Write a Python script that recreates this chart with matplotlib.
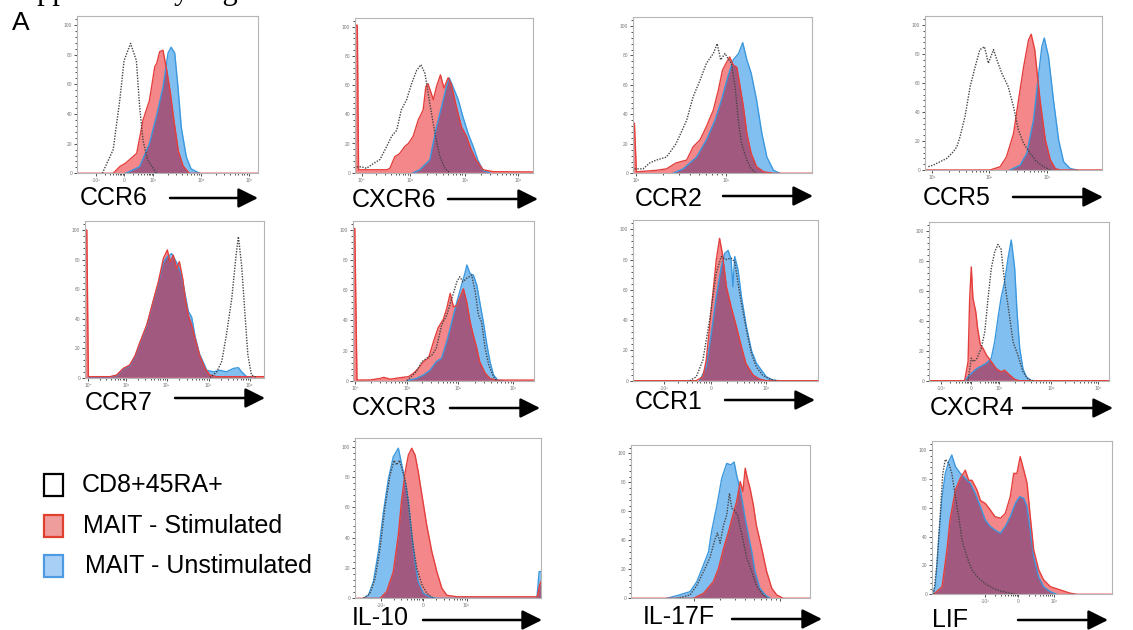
import numpy as np
import matplotlib
matplotlib.use('Agg')
import matplotlib.pyplot as plt
from matplotlib.patches import Rectangle
from matplotlib.ticker import MultipleLocator

plt.rcParams['font.family'] = ['Liberation Sans', 'DejaVu Sans']

# x = percent of axis width, y = % of max
ccr6_naive_x = [14, 20, 23.6, 26, 29.6, 32.8, 34.6, 36.5, 39, 44]
ccr6_naive_y = [0, 16, 49, 76, 87.6, 76, 45, 22, 9, 0]
ccr6_stim_x = [0, 20, 23.6, 27, 33, 36.5, 40, 43, 44, 45.7, 47.5, 49.5, 51.5, 53.5, 56, 58.6, 62, 100]
ccr6_stim_y = [0, 0, 4.5, 7, 13.5, 36, 49, 72, 74, 82, 83, 70, 55, 36, 15, 5, 0, 0]
ccr6_unstim_x = [27, 34.6, 40, 43.8, 47.5, 50.3, 52, 54, 55.8, 57.6, 60.4, 63, 67.8]
ccr6_unstim_y = [0, 4.5, 20, 38, 58, 81, 85, 81, 58, 31, 11, 3, 0]

cxcr6_naive_x = [1, 3.7, 6.5, 10, 14, 17.8, 20.6, 23.4, 26, 29, 31.8, 34.6, 37, 39.3, 42, 44.9, 47.7, 50.5, 53]
cxcr6_naive_y = [4, 4, 3, 6, 9, 18, 25, 29, 43, 50, 61, 70, 74, 68, 47.5, 27, 11, 3, 0]
cxcr6_stim_x = [0, 0, 1.3, 2, 18, 19.6, 22.4, 25, 28, 30, 32.7, 35.5, 38.3, 39.8, 41, 44, 45.8, 48, 50,
                52.3, 54, 57, 59.8, 62.6, 65.4, 68, 72, 77.6, 100]
cxcr6_stim_y = [0, 101, 101, 2, 2, 3, 11, 13, 18, 20, 25, 36, 43, 59, 61, 50, 59, 67, 58,
                65, 61, 45, 31.5, 25, 15.5, 8.7, 2, 0.7, 0.5]
cxcr6_unstim_x = [32.7, 36.4, 42, 45.8, 48.6, 51.4, 52.9, 55, 58, 60.7, 63.5, 66.4, 69, 72, 75.7]
cxcr6_unstim_y = [0, 2, 8.7, 31.5, 45, 59, 65, 59, 50, 38, 27, 18, 8.7, 1.4, 0]

ccr2_naive_x = [0.9, 5.6, 9.3, 13, 18.7, 24, 30, 33.6, 37.4, 41, 44.9, 47, 49, 51.4, 53, 55, 57, 59, 60.7, 63.6, 66, 69]
ccr2_naive_y = [3, 3, 7, 9, 11, 20, 36, 52, 63, 74.7, 81.4, 88, 77, 81.4, 78, 74.7, 59, 34, 20, 9, 3, 0]
ccr2_stim_x = [0, 0, 0.8, 1.9, 13, 18.7, 24, 30, 33.6, 37.4, 41, 44.9, 47.7, 50, 52, 54, 56, 58,
               59.8, 61.7, 63.6, 66, 69, 73, 78.5, 100]
ccr2_stim_y = [0, 34, 34, 1, 2, 3, 7, 9, 18, 22.6, 31.7, 43, 56.6, 70, 74.7, 79, 73.5, 72,
               59, 45, 27, 13.6, 4.5, 1, 0, 0]
ccr2_unstim_x = [22.4, 28, 35.5, 41, 45.8, 49.5, 53, 56, 59, 61.3, 63.6, 66, 69, 72, 74.8, 78.5, 82]
ccr2_unstim_y = [0, 3, 11, 22.6, 36, 50, 65.6, 77, 81.4, 88.7, 77, 68, 50, 27, 11, 2, 0]

ccr5_naive_x = [1.9, 4.7, 8.5, 12.3, 16, 18, 19.8, 22.6, 25.5, 28.3, 31, 33.6, 35.8, 38.7, 40.6, 43.4,
                47, 50, 52.8, 55.7, 59.4, 63, 67, 70.8]
ccr5_naive_y = [2.3, 3.4, 5.7, 8, 12.6, 16, 23, 36.8, 57.5, 71, 83, 85, 73.6, 83, 76, 66.7,
                57.5, 43.7, 27.6, 18.4, 11.5, 5.7, 2.3, 0]
ccr5_stim_x = [0, 36.8, 42.5, 46, 50, 52.8, 55.7, 58.5, 60, 62, 65, 68, 70.8, 73.6, 76.4, 100]
ccr5_stim_y = [0, 0, 2.3, 9, 25, 48, 71, 89.7, 93.6, 83, 48, 20.7, 7, 1, 0, 0]
ccr5_unstim_x = [48, 53.8, 57.5, 61.3, 64, 66, 67.4, 69.8, 72.6, 75.5, 78.3, 82, 86]
ccr5_unstim_y = [0, 3.4, 11.5, 34.5, 64, 85, 91, 78, 48, 20.7, 5.7, 1, 0]

ccr7_naive_x = [69.8, 73.6, 76.4, 79, 82, 84.4, 85.7, 87.5, 89.4, 91, 93, 96]
ccr7_naive_y = [0, 4, 11, 29, 53.7, 83, 95.5, 76, 42.4, 15.3, 1.8, 0]
ccr7_stim_x = [0, 0, 1, 1.9, 14, 17.7, 21.4, 25, 28, 30.7, 34.5, 38, 41, 43.8, 46, 47.5, 49.3, 51.2,
               52.7, 54.6, 56, 57.7, 59.6, 61.5, 64, 67, 69.8, 73.6, 100]
ccr7_stim_y = [0, 100, 100, 0.7, 0.7, 1.8, 6.3, 8.6, 15, 24, 35.7, 51.5, 65, 80.8, 86.5, 78.6, 83, 74,
               78.6, 67, 53.7, 42.4, 35.7, 26.6, 15.3, 6.3, 1.8, 0.7, 0.7]
ccr7_unstim_x = [1.9, 14, 17.7, 21.4, 25, 28, 30.7, 34.5, 38, 41, 43.8, 46, 48.4, 50.3, 52, 53.8, 56,
                 57.7, 59.6, 61.5, 64, 67, 68, 71.7, 75.4, 79, 83, 85.7, 87.5, 90.3, 93]
ccr7_unstim_y = [0.5, 0.5, 1.5, 6, 8, 14.5, 23.5, 35, 51, 64, 78, 82, 84, 80, 76, 70, 56,
                 45, 41, 28, 16, 8, 5, 4, 5, 4, 6.3, 6.8, 4, 0.7, 0]

cxcr3_naive_x = [29.8, 35, 38, 40.8, 43.6, 46, 49, 51.8, 54.6, 57.4, 59, 60.7, 62.9, 65.6, 67.5, 69.3,
                 71, 73, 75, 77.6, 79.4]
cxcr3_naive_y = [0, 6, 12.6, 15, 17, 21.5, 37, 43.6, 54.6, 65.7, 69, 65.7, 68, 70, 59, 43.6,
                 39, 21.5, 10.4, 2.7, 0]
cxcr3_stim_x = [0, 0, 1, 2.2, 9.6, 15, 17, 20.6, 26, 30.7, 33.5, 36, 39, 41.7, 44.5, 47, 50, 51.8,
                53.7, 55.5, 57.4, 59.6, 61, 62.9, 64.7, 66.5, 68.4, 70, 73, 75.7, 79, 100]
cxcr3_stim_y = [0, 101, 101, 0.4, 0.5, 1.5, 2.2, 1, 2, 2.7, 5, 8, 12.6, 15, 26, 35, 41, 48,
                58, 49, 50, 57, 61, 52, 39, 30, 21.5, 12.6, 5, 1.5, 0.4, 0.4]
cxcr3_unstim_x = [29.8, 35, 39, 42.6, 46, 49, 51.8, 54.6, 57.4, 60, 62, 62.9, 64.7, 66.5, 68.4, 70,
                  72, 74, 75.7, 77.6, 80, 83]
cxcr3_unstim_y = [0, 1.5, 3.8, 7, 12.6, 15, 26, 39, 52.4, 63.5, 72, 76.8, 71, 70, 63.5, 52.4,
                  39, 23.7, 12.6, 3.8, 0.4, 0]

ccr1_naive_x = [30.6, 34.2, 37.8, 41.4, 45, 47.7, 50.5, 53, 55, 56.8, 58.6, 61.3, 64, 66.7, 70, 74, 77.5]
ccr1_naive_y = [0, 2.6, 13.7, 40, 71, 82, 80, 81, 78.6, 64, 51, 33.5, 18, 9, 3.7, 1, 0]
ccr1_stim_x = [0, 34.2, 37.8, 39.6, 41.4, 43.2, 45, 46.8, 48.3, 50.5, 53, 55.9, 58.6, 61, 64.9, 68.5, 72, 100]
ccr1_stim_y = [0, 0, 2.6, 13.7, 35.7, 57.7, 79.7, 94, 84, 62, 49, 35.7, 22.5, 11.5, 3.7, 1, 0, 0]
ccr1_unstim_x = [36, 39.6, 42.3, 45, 47.7, 49.5, 51.4, 53, 54, 55, 56.8, 58.6, 61.3, 64, 66.7, 69.4,
                 72, 75.7, 79]
ccr1_unstim_y = [0, 9, 31, 55.5, 75, 84, 86, 80, 62, 82, 73, 55.5, 35.7, 20, 11.5, 7,
                 2.6, 0.4, 0]

cxcr4_naive_x = [21.7, 23.5, 24.8, 26.7, 29, 31, 32.8, 34.6, 36.5, 38.3, 40, 42, 44.4, 46.7, 49.4,
                 52.2, 55, 57.8]
cxcr4_naive_y = [0, 15, 12.7, 15, 21.6, 32.7, 55, 75, 86, 91, 88, 66, 46, 26, 17, 6, 1, 0]
cxcr4_stim_x = [0, 19.8, 21.7, 22.6, 23.5, 24.4, 26, 27, 28.5, 30, 32, 34.6, 37.4, 40, 42, 44.8,
                47.6, 50, 100]
cxcr4_stim_y = [0, 0, 12.7, 55, 76, 55, 46, 35, 24, 21.6, 17, 12.7, 8, 6, 7, 3.8, 1, 0, 0]
cxcr4_unstim_x = [19.8, 22.6, 26.3, 31.8, 34.6, 36.5, 38.3, 40, 42, 43.9, 45.7, 47.6, 48.9, 50.4,
                  52.2, 54, 56.9]
cxcr4_unstim_y = [0, 3.8, 8, 11.6, 15, 26, 41.6, 55, 66, 81.7, 94, 75, 46, 21.6, 8, 2.7, 0]

il10_naive_x = [4.5, 8, 10.8, 13.5, 16, 18.8, 21, 22.4, 23.9, 25.7, 27.5, 29.3, 31, 33.2, 36, 38.6, 42]
il10_naive_y = [0, 3, 13, 33, 59, 81, 91, 88, 91, 83.5, 74.7, 57, 37, 20, 9, 3.3, 0]
il10_stim_x = [0, 13.5, 17, 20.6, 23.3, 25, 27, 28.7, 30.5, 32.3, 34, 36, 38.6, 41.3, 44, 46.7,
               49.4, 54.8, 76, 98, 99.3, 100]
il10_stim_y = [0, 0, 4.4, 17.6, 42, 64, 83.5, 94.5, 99, 94.5, 83.5, 68, 48, 30.8, 17.6, 6.6,
               2, 1, 1, 1, 9, 11]
il10_unstim_x = [4.5, 7.2, 9.9, 12.6, 15.3, 18, 20.6, 23.3, 25, 27, 28.7, 30.5, 32.3, 34, 36.8,
                 40, 44, 97.8, 99, 100]
il10_unstim_y = [0, 2, 11, 30.8, 57, 79, 93.4, 99, 89, 77, 64, 42, 24, 11, 3.3,
                 1, 0, 0, 17.6, 17.6]

il17f_naive_x = [25.6, 33, 36.8, 40.5, 44, 47, 48.3, 49.8, 51.7, 53.5, 55, 56.3, 57.6, 59.5, 62,
                 64.7, 67.5, 70, 73, 75.8]
il17f_naive_y = [0, 2.3, 9, 18.4, 27.6, 41, 45, 38, 50.6, 57.5, 72.4, 62, 61, 57.5, 43.7,
                 27.6, 18.4, 9, 3.4, 0]
il17f_stim_x = [0, 35, 40.5, 46, 48.9, 51.7, 54.5, 56.9, 59, 61, 62.5, 63.8, 65, 66.5, 68.4, 70,
                73, 75.8, 78.6, 81.4, 85, 100]
il17f_stim_y = [0, 0, 3.4, 11.5, 20.7, 34.5, 46, 57.5, 66.7, 80.5, 73.6, 89.7, 82.8, 75.9, 64, 50.6,
                34.5, 18.4, 7, 2.3, 0, 0]
il17f_unstim_x = [20, 25.6, 33, 36.8, 40.5, 43.3, 45, 48, 50.7, 53.5, 55.8, 57.6, 59, 61.3, 63.8,
                  65.6, 67.5, 69.3, 72, 75, 77.7]
il17f_unstim_y = [0, 1.8, 4.6, 11.5, 23, 32, 46, 64, 82.8, 93, 92, 94, 85, 73.6, 55,
                  43.7, 32, 18.4, 7, 2.3, 0]

lif_naive_x = [0.9, 2.8, 4.6, 6, 7.4, 9.3, 11, 13, 14.8, 16.7, 19.4, 22.2, 26, 30.6, 36, 41.7, 47.2]
lif_naive_y = [0, 21.5, 56, 83.8, 93.5, 90.8, 83.8, 67.7, 53.8, 37.6, 26, 16.9, 11, 6.5, 3, 1.2, 0]
lif_stim_x = [0, 0.9, 5.6, 8.3, 10, 13, 15.7, 18.5, 20.4, 22.2, 25, 26.9, 29.6, 32.4, 35, 38, 40.7,
              43.5, 45.4, 47.2, 49, 51, 52.8, 54.6, 56.5, 59.3, 62, 65.7, 71.3, 76.9, 80.6, 100]
lif_stim_y = [0, 0, 5.3, 30.7, 51.5, 72.3, 80.4, 86, 79, 79, 72.3, 65, 63, 58.4, 53.8, 52.7, 56,
              67.7, 83.8, 83.8, 95.4, 86, 77, 53.8, 30.7, 16.9, 10, 5.3, 3, 0.7, 0, 0]
lif_unstim_x = [0, 1.9, 3.7, 5.6, 7.4, 9.3, 11, 13, 15.7, 18.5, 21.3, 24, 26.9, 29.6, 32.4, 35, 38,
                40.7, 43.5, 46.3, 48.7, 51, 52.8, 54.6, 56.5, 59.3, 62, 65.7, 69.4]
lif_unstim_y = [0, 5.3, 37.6, 67.7, 83.8, 92, 96.5, 88.5, 83.8, 80.4, 77, 70, 60.7, 51.5, 47, 44.6, 42.3,
                47, 53.8, 63, 67.7, 66.5, 60.7, 44.6, 26, 12, 5.3, 1.8, 0]

# tick positions (percent of axis) and labels
ccr6_xt, ccr6_xl = [10.7, 26, 42, 68.7, 95], ['-10³', '0', '10³', '10⁴', '10⁵']
cxcr6_xt, cxcr6_xl = [3.7, 31, 61.7, 91.6], ['10⁰', '10¹', '10²', '10³']
ccr2_xt, ccr2_xl = [1.9, 52], ['10¹', '10²']
ccr5_xt, ccr5_xl = [3.8, 36, 69], ['10¹', '10²', '10³']
ccr7_xt, ccr7_xl = [1.9, 23, 45.6, 69, 92], ['10⁰', '10¹', '10²', '10³', '10⁴']
cxcr3_xt, cxcr3_xl = [1.3, 29.8, 58, 88.6], ['10⁰', '10¹', '10²', '10³']
ccr1_xt, ccr1_xl = [17, 42, 72], ['-10²', '0', '10³']
cxcr4_xt, cxcr4_xl = [6.9, 23.5, 39, 68, 94], ['-10³', '0', '10³', '10⁴', '10⁵']
il10_xt, il10_xl = [14, 36.8, 60], ['-10³', '0', '10³']
il17f_xt, il17f_xl = [35, 83], ['', '']
lif_xt, lif_xl = [29.6, 48, 67.6], ['-10³', '0', '10³']

W, H = 1133, 630
RED_FILL, RED_EDGE = '#F3878A', '#E43F3C'
BLUE_FILL, BLUE_EDGE = '#82BFF1', '#3B98DE'
PURPLE = '#A2597F'

fig = plt.figure(figsize=(W / 100, H / 100), dpi=100)


def panel(box, naive, stim, unstim, xt, xl, name, lab, arrow):
    left, right, y100, y0 = box
    top = y0 - (y0 - y100) * 1.06
    ax = fig.add_axes([left / W, 1 - y0 / H, (right - left) / W, (y0 - top) / H])
    ax.set_xlim(0, 100)
    ax.set_ylim(0, 106)

    bfill = ax.fill_between(unstim[0], unstim[1], 0, color=BLUE_FILL, lw=0)
    ax.plot(unstim[0], unstim[1], color=BLUE_EDGE, lw=1.0)
    ax.fill_between(stim[0], stim[1], 0, color=RED_FILL, lw=0)
    # overlap of stimulated and unstimulated drawn in the darker mixed colour
    over = ax.fill_between(stim[0], stim[1], 0, color=PURPLE, lw=0)
    over.set_clip_path(bfill.get_paths()[0], ax.transData)
    ax.plot(stim[0], stim[1], color=RED_EDGE, lw=1.0)
    ax.plot(naive[0], naive[1], color='#454545', lw=1.0, ls=(0, (1, 1)))

    ax.set_yticks([0, 20, 40, 60, 80, 100])
    ax.set_yticklabels(['0', '20', '40', '60', '80', '100'])
    ax.yaxis.set_minor_locator(MultipleLocator(4))
    ax.set_xticks(xt)
    ax.set_xticklabels(xl)
    minors = []
    for a, b in zip(xt[:-1], xt[1:]):
        minors += [a + (b - a) * np.log10(k) for k in range(2, 10)]
    ax.set_xticks(minors, minor=True)
    ax.tick_params(which='both', direction='out', width=0.6, colors='#333333',
                   labelsize=3.5, labelcolor='#777777', pad=1)
    ax.tick_params(which='major', length=2.5)
    ax.tick_params(which='minor', length=1.5)
    for s in ax.spines.values():
        s.set_color('#b5b5b5')
        s.set_linewidth(0.8)

    fig.text(lab[0] / W, 1 - lab[1] / H, name, fontsize=18, ha='left', va='center')
    ax.annotate('', xy=(arrow[1], H - arrow[2]), xytext=(arrow[0], H - arrow[2]),
                xycoords='figure pixels', textcoords='figure pixels',
                arrowprops=dict(arrowstyle='-|>,head_length=0.6,head_width=0.3', color='black',
                                lw=1.8, mutation_scale=20, shrinkA=0, shrinkB=0))
    return ax


panel((77, 258, 25, 173.3), (ccr6_naive_x, ccr6_naive_y), (ccr6_stim_x, ccr6_stim_y),
      (ccr6_unstim_x, ccr6_unstim_y), ccr6_xt, ccr6_xl, 'CCR6', (80, 198), (170, 258, 198))
panel((355, 533, 26.7, 172.7), (cxcr6_naive_x, cxcr6_naive_y), (cxcr6_stim_x, cxcr6_stim_y),
      (cxcr6_unstim_x, cxcr6_unstim_y), cxcr6_xt, cxcr6_xl, 'CXCR6', (352, 200), (448, 538, 199))
panel((633, 812, 26, 173.3), (ccr2_naive_x, ccr2_naive_y), (ccr2_stim_x, ccr2_stim_y),
      (ccr2_unstim_x, ccr2_unstim_y), ccr2_xt, ccr2_xl, 'CCR2', (635, 199), (723, 813, 196))
panel((925, 1102, 25, 170), (ccr5_naive_x, ccr5_naive_y), (ccr5_stim_x, ccr5_stim_y),
      (ccr5_unstim_x, ccr5_unstim_y), ccr5_xt, ccr5_xl, 'CCR5', (923, 198), (1013, 1103, 197))

panel((85, 264, 230, 377.7), (ccr7_naive_x, ccr7_naive_y), (ccr7_stim_x, ccr7_stim_y),
      (ccr7_unstim_x, ccr7_unstim_y), ccr7_xt, ccr7_xl, 'CCR7', (85, 403), (175, 265, 398))
panel((353, 534, 230, 380.7), (cxcr3_naive_x, cxcr3_naive_y), (cxcr3_stim_x, cxcr3_stim_y),
      (cxcr3_unstim_x, cxcr3_unstim_y), cxcr3_xt, cxcr3_xl, 'CXCR3', (352, 408), (450, 540, 408))
panel((633, 818, 229.3, 380.7), (ccr1_naive_x, ccr1_naive_y), (ccr1_stim_x, ccr1_stim_y),
      (ccr1_unstim_x, ccr1_unstim_y), ccr1_xt, ccr1_xl, 'CCR1', (635, 402), (725, 815, 400))
panel((929, 1109, 231, 380.7), (cxcr4_naive_x, cxcr4_naive_y), (cxcr4_stim_x, cxcr4_stim_y),
      (cxcr4_unstim_x, cxcr4_unstim_y), cxcr4_xt, cxcr4_xl, 'CXCR4', (930, 408), (1023, 1113, 408))

panel((355, 541, 446.7, 598.3), (il10_naive_x, il10_naive_y), (il10_stim_x, il10_stim_y),
      (il10_unstim_x, il10_unstim_y), il10_xt, il10_xl, 'IL-10', (352, 618), (423, 542, 620))
panel((631, 810, 453.3, 598.3), (il17f_naive_x, il17f_naive_y), (il17f_stim_x, il17f_stim_y),
      (il17f_unstim_x, il17f_unstim_y), il17f_xt, il17f_xl, 'IL-17F', (643, 617), (732, 822, 619))
panel((932, 1112, 450, 594.3), (lif_naive_x, lif_naive_y), (lif_stim_x, lif_stim_y),
      (lif_unstim_x, lif_unstim_y), lif_xt, lif_xl, 'LIF', (932, 620), (1018, 1108, 620))

# legend
legend_items = ['CD8+45RA+', 'MAIT - Stimulated', 'MAIT - Unstimulated']
legend_style = [('white', 'black'), ('#EE9C9C', '#E0402E'), ('#A8D0F7', '#4E9BE3')]
legend_y = [485, 526, 566]
legend_tx = [82, 83, 85]
for name, (fc, ec), yc, tx in zip(legend_items, legend_style, legend_y, legend_tx):
    fig.add_artist(Rectangle((44 / W, (H - yc - 11) / H), 19 / W, 22 / H,
                             transform=fig.transFigure, facecolor=fc, edgecolor=ec, lw=1.6))
    fig.text(tx / W, 1 - yc / H, name, fontsize=18, ha='left', va='center')

fig.text(12 / W, 1 - 23 / H, 'A', fontsize=19, ha='left', va='center')
# page caption above the panels, cut off by the top edge as in the source
fig.text(5 / W, 1 + 0.5 / H, 'Supplementary Figure', fontsize=22, family='Liberation Serif',
         ha='left', va='baseline')

fig.savefig('out.png', dpi=100)
